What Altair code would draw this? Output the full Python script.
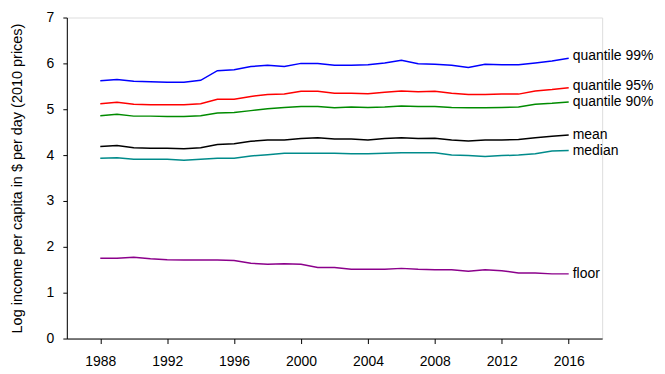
import altair as alt
import pandas as pd

years = list(range(1988, 2017))

q99 = [5.62, 5.65, 5.61, 5.60, 5.59, 5.59, 5.63, 5.84, 5.86, 5.93, 5.96, 5.93, 6.00, 6.00, 5.96,
       5.96, 5.97, 6.01, 6.07, 5.99, 5.98, 5.96, 5.91, 5.98, 5.97, 5.97, 6.01, 6.05, 6.11]
q95 = [5.12, 5.15, 5.11, 5.10, 5.10, 5.10, 5.12, 5.22, 5.22, 5.28, 5.32, 5.33, 5.39, 5.39, 5.35,
       5.35, 5.34, 5.37, 5.40, 5.38, 5.39, 5.35, 5.32, 5.32, 5.33, 5.33, 5.40, 5.43, 5.47]
q90 = [4.86, 4.89, 4.85, 4.85, 4.84, 4.84, 4.86, 4.92, 4.93, 4.97, 5.01, 5.04, 5.06, 5.06, 5.03,
       5.05, 5.04, 5.05, 5.07, 5.06, 5.06, 5.04, 5.03, 5.03, 5.04, 5.05, 5.11, 5.13, 5.16]
mean = [4.19, 4.21, 4.16, 4.15, 4.15, 4.14, 4.16, 4.23, 4.25, 4.30, 4.33, 4.33, 4.36, 4.38, 4.35,
        4.35, 4.33, 4.36, 4.38, 4.36, 4.37, 4.33, 4.31, 4.33, 4.33, 4.34, 4.38, 4.41, 4.44]
median = [3.93, 3.94, 3.91, 3.91, 3.91, 3.89, 3.91, 3.93, 3.93, 3.98, 4.01, 4.04, 4.04, 4.04, 4.04,
          4.03, 4.03, 4.04, 4.05, 4.05, 4.05, 4.00, 3.99, 3.97, 3.99, 4.00, 4.03, 4.09, 4.10]
floor = [1.75, 1.75, 1.77, 1.74, 1.72, 1.71, 1.71, 1.71, 1.70, 1.64, 1.62, 1.63, 1.62, 1.55, 1.55,
         1.51, 1.51, 1.51, 1.53, 1.51, 1.50, 1.50, 1.47, 1.50, 1.48, 1.43, 1.43, 1.41, 1.41]

series_names = ["quantile 99%", "quantile 95%", "quantile 90%", "mean", "median", "floor"]
series_values = [q99, q95, q90, mean, median, floor]
series_colors = ["#0000ff", "#ff0000", "#008b00", "#000000", "#008b8b", "#8b008b"]

x_ticks = [1988, 1992, 1996, 2000, 2004, 2008, 2012, 2016]
y_ticks = [0, 1, 2, 3, 4, 5, 6, 7]

rows = []
for name, vals in zip(series_names, series_values):
    for yr, v in zip(years, vals):
        rows.append({"year": yr, "value": v, "series": name})
df = pd.DataFrame(rows)

labels = pd.DataFrame({
    "year": [years[-1]] * len(series_names),
    "value": [vals[-1] for vals in series_values],
    "series": series_names,
})

FONT = "Liberation Sans"

x_enc = alt.X("year:Q",
              scale=alt.Scale(domain=[1986, 2018], nice=False, zero=False),
              axis=alt.Axis(values=x_ticks, format="d", title=None, grid=False,
                            tickSize=5, labelPadding=11, labelFontSize=14,
                            labelFont=FONT, labelColor="black", domainColor="black",
                            tickColor="black", labelFlush=False))
y_enc = alt.Y("value:Q",
              scale=alt.Scale(domain=[0, 7], nice=False),
              axis=alt.Axis(values=y_ticks, format="d", grid=False,
                            title="Log income per capita in $ per day (2010 prices)",
                            titleFont=FONT, titleFontSize=14.5, titleFontWeight="normal",
                            titleColor="black", titleX=-49, titleY=161,
                            titleBaseline="middle", titleAngle=-90,
                            tickSize=4, labelPadding=9, labelFontSize=14,
                            labelFont=FONT, labelColor="black", domainColor="black",
                            tickColor="black", labelFlush=False))

color_scale = alt.Scale(domain=series_names, range=series_colors)

lines = alt.Chart(df).mark_line(strokeWidth=1.5).encode(
    x=x_enc, y=y_enc,
    color=alt.Color("series:N", scale=color_scale, legend=None),
    detail="series:N",
)

upper_names = ["quantile 99%", "quantile 95%"]
text_upper = alt.Chart(labels).mark_text(align="left", baseline="middle", dx=4, dy=-2,
                                         fontSize=14, font=FONT, color="black").encode(
    x="year:Q", y="value:Q", text="series:N"
).transform_filter(alt.FieldOneOfPredicate(field="series", oneOf=upper_names))

text_lower = alt.Chart(labels).mark_text(align="left", baseline="middle", dx=4, dy=0,
                                         fontSize=14, font=FONT, color="black").encode(
    x="year:Q", y="value:Q", text="series:N"
).transform_filter(~alt.FieldOneOfPredicate(field="series", oneOf=upper_names))

chart = (lines + text_upper + text_lower).properties(
    width=537, height=322,
    autosize=alt.AutoSizeParams(type="none"),
    padding={"left": 59, "top": 9, "right": 55, "bottom": 30},
).configure_view(stroke=None).configure(background="white")

chart.save("out.html", embed_options={"renderer": "svg", "actions": False})
